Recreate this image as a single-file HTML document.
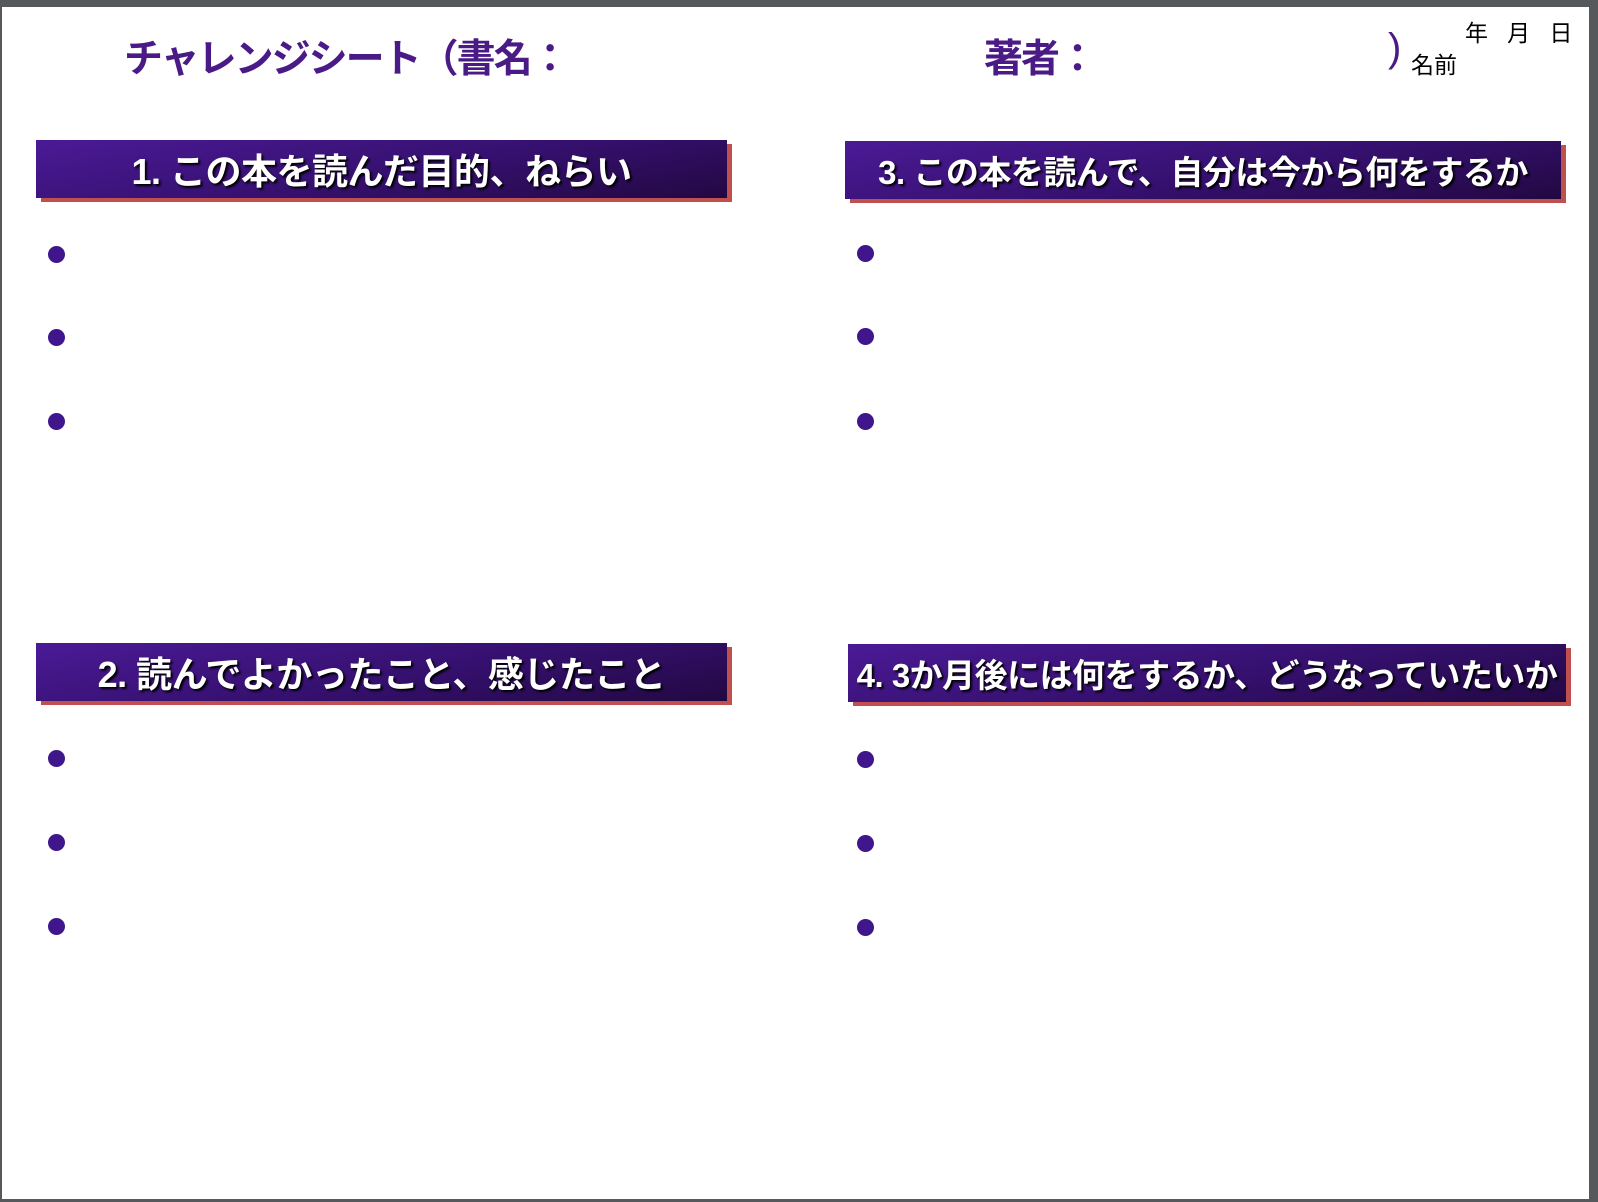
<!DOCTYPE html>
<html><head><meta charset="utf-8"><style>
body{margin:0;width:1598px;height:1202px;position:relative;background:#fff;overflow:hidden;font-family:"Liberation Sans","Noto Sans CJK JP",sans-serif}
.g{position:absolute;background:#55595c}
.t{position:absolute;white-space:nowrap;font-weight:bold}
.box{position:absolute;background:linear-gradient(170deg,#4b1a96 0%,#35106e 55%,#220842 100%);box-shadow:5px 4px 0 #c0504d;color:#fff;font-weight:bold;font-size:36px;display:flex;align-items:center;justify-content:center;white-space:nowrap;text-shadow:2px 2px 2px #000;letter-spacing:-0.5px}
.d{position:absolute;width:17px;height:17px;border-radius:50%;background:#3f168c}
</style></head><body>
<div class="g" style="left:0;top:0;width:1598px;height:7px"></div>
<div class="g" style="left:0;top:0;width:2px;height:1202px"></div>
<div class="g" style="left:1589px;top:0;width:9px;height:1202px"></div>
<div class="g" style="left:0;top:1199px;width:1598px;height:3px"></div>
<div class="t" style="left:124px;top:28px;font-size:39px;color:#4a1a86;letter-spacing:-2px">チャレンジシート（書名：</div>
<div class="t" style="left:984px;top:28px;font-size:39px;color:#4a1a86;letter-spacing:-2px">著者：</div>
<div class="t" style="left:1388px;top:26px;font-size:40px;color:#4a1a86;font-weight:normal">)</div>
<div class="t" style="left:1411px;top:46px;font-size:23px;font-weight:normal">名前</div>
<div class="t" style="left:1465px;top:14px;font-size:23px;font-weight:normal">年&nbsp;&nbsp;&nbsp;月&nbsp;&nbsp;&nbsp;日</div>
<div class="box" style="left:36px;top:140px;width:691px;height:58px">1. この本を読んだ目的、ねらい</div>
<div class="box" style="left:845px;top:141px;width:716px;height:58px;font-size:33px">3. この本を読んで、自分は今から何をするか</div>
<div class="box" style="left:36px;top:643px;width:691px;height:58px">2. 読んでよかったこと、感じたこと</div>
<div class="box" style="left:848px;top:644px;width:718px;height:58px;font-size:33px">4. 3か月後には何をするか、どうなっていたいか</div>
<div class="d" style="left:48px;top:246px"></div><div class="d" style="left:48px;top:329px"></div><div class="d" style="left:48px;top:413px"></div>
<div class="d" style="left:48px;top:750px"></div><div class="d" style="left:48px;top:834px"></div><div class="d" style="left:48px;top:918px"></div>
<div class="d" style="left:857px;top:245px"></div><div class="d" style="left:857px;top:328px"></div><div class="d" style="left:857px;top:413px"></div>
<div class="d" style="left:857px;top:751px"></div><div class="d" style="left:857px;top:835px"></div><div class="d" style="left:857px;top:919px"></div>
</body></html>
